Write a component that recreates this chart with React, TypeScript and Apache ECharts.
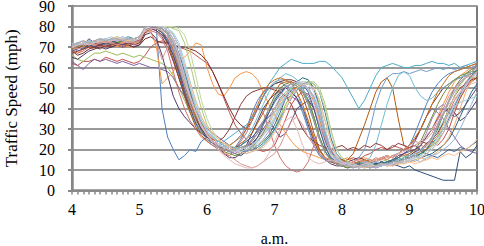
import React, { useEffect, useRef } from "react";
import * as echarts from "echarts";

// sample times: every 5 minutes from 4:00 to 10:00 a.m.
const times: number[] = Array.from({ length: 73 }, (_, i) => 4 + i / 12);
const xTicks = [4, 5, 6, 7, 8, 9, 10];
const yTicks = [0, 10, 20, 30, 40, 50, 60, 70, 80, 90];

const s01 = [70,68,69,71,70,72,71,72,71,73,72,72, 73,78,80,79,40,26,20,15,17,20,19,24, 26,24,22,20,19,21,25,30,38,44,48,50, 52,53,51,49,45,38,30,22,17,15,14,13, 13,14,12,13,14,15,14,16,15,17,18,20, 22,28,35,42,48,52,55,57,58,59,60,61, 62];
const s02 = [62,61,63,63,64,63,65,64,63,64,63,62, 63,66,70,72,73,72,71,70,69,68,66,64, 62,58,52,45,38,32,28,25,22,20,19,20, 22,28,35,42,46,48,47,44,35,25,18,15, 14,15,16,15,17,18,20,21,20,22,21,20, 21,22,20,23,24,22,25,30,38,45,50,54, 58];
const s03 = [66,64,63,65,67,67,68,67,66,67,66,65, 66,65,64,63,62,60,56,50,44,38,33,29, 26,24,22,21,20,19,22,24,21,20,22,25, 30,36,42,47,50,52,53,50,42,30,20,16, 14,13,12,13,14,12,13,14,15,14,16,17, 16,18,17,20,22,26,33,40,46,52,55,57, 58];
const s04 = [63,61,59,62,64,63,64,63,62,63,62,61, 62,61,60,60,59,58,55,50,46,40,36,33, 30,28,26,24,22,20,19,21,25,30,34,36, 38,42,45,46,44,40,34,26,20,16,14,13, 12,13,12,11,12,13,12,14,13,15,16,18, 20,24,30,36,40,38,35,30,26,22,20,19, 18];
const s05 = [70,71,70,72,71,72,73,72,73,72,73,72, 74,79,80,80,78,72,64,55,46,38,32,28, 25,23,22,24,26,28,30,32,35,40,46,52, 56,60,62,64,63,62,62,62,63,63,61,58, 55,50,45,40,44,50,56,60,61,62,61,60, 60,61,61,62,63,62,62,61,62,60,61,62, 63];
const s06 = [68,67,69,70,69,71,70,71,70,71,70,70, 72,77,78,70,52,55,58,62,65,68,72,71, 60,52,47,46,50,55,57,58,57,54,48,42, 37,32,28,24,21,19,18,17,16,15,14,14, 15,16,14,15,16,15,14,16,15,17,16,18, 17,19,22,26,30,36,42,48,53,56,58,60, 61];
const s07 = [69,70,71,70,72,71,72,73,72,71,72,73, 74,79,80,79,77,74,68,60,50,42,36,30, 26,24,22,20,19,18,17,19,22,26,32,38, 44,48,50,52,51,48,42,34,25,19,15,14, 13,12,13,14,12,13,14,13,14,13,12,11, 12,10,9,8,7,6,5,5,5,19,16,18, 22];
const s08 = [68,66,67,69,70,69,71,70,71,70,71,70, 71,74,75,73,72,72,71,70,70,69,68,66, 63,58,52,46,40,35,32,30,34,40,46,50, 52,53,54,54,53,52,50,45,36,26,19,16, 15,14,15,16,15,14,15,16,17,16,18,20, 22,25,30,36,42,46,50,52,54,55,56,57, 58];
const s09 = [70,71,70,71,72,73,72,73,74,73,72,73, 74,79,80,80,79,76,70,62,52,43,35,29, 25,23,21,20,19,20,21,22,24,28,33,40, 46,50,52,53,52,50,44,36,26,19,15,13, 12,12,13,12,11,12,13,12,13,14,15,14, 15,16,18,20,24,30,37,44,50,54,57,59, 60];
const s10 = [65,64,66,68,69,70,69,70,71,70,71,70, 71,76,77,74,66,56,46,40,36,33,30,28, 26,24,22,18,16,16,18,22,28,34,40,44, 47,49,50,48,45,40,32,24,18,15,13,12, 12,11,12,13,12,12,13,14,13,15,14,16, 17,19,20,22,26,32,38,40,38,34,36,40, 44];
const s11 = [71,72,71,72,73,72,73,74,73,74,73,74, 75,79,80,80,80,79,76,70,60,48,38,31, 27,24,22,21,20,19,19,20,21,22,24,27, 32,38,45,50,53,55,54,50,40,28,20,16, 14,13,13,14,13,12,13,14,13,14,15,16, 16,17,16,17,18,20,22,25,30,36,42,48, 52];
const s12 = [69,70,70,71,72,71,72,71,72,72,71,72, 73,78,79,79,77,72,64,55,46,38,31,27, 24,22,21,20,20,21,23,25,28,33,38,44, 48,52,53,53,51,46,38,28,20,16,14,13, 14,15,18,25,32,40,48,53,55,50,35,22, 20,18,19,20,22,24,28,34,40,45,50,53, 55];
const s13 = [70,69,71,72,71,72,73,72,71,72,73,72, 73,79,80,80,79,77,72,64,54,44,36,30, 26,24,22,21,22,24,27,31,36,41,46,50, 53,54,54,52,48,40,30,22,17,15,14,14, 14,13,14,16,20,30,42,50,55,57,57,58, 57,58,59,58,59,60,59,60,59,60,61,60, 61];
const s14 = [68,67,68,70,71,70,71,72,71,70,71,72, 72,77,78,77,74,68,58,48,40,34,30,26, 24,22,20,18,17,20,24,28,34,40,38,30, 22,16,12,10,9,10,14,22,30,28,20,16, 14,13,14,13,15,14,16,15,17,16,18,17, 18,20,22,21,24,27,32,38,44,48,53,56, 58];
const s15 = [69,70,71,72,73,74,73,74,75,74,73,74, 75,79,80,80,80,80,79,78,72,62,50,40, 32,27,24,22,21,20,19,20,21,22,24,26, 30,36,42,47,50,52,53,53,50,42,30,20, 16,14,13,12,13,12,12,13,12,13,14,13, 14,15,16,18,20,24,30,36,42,47,51,54, 56];
const s16 = [70,72,71,73,72,73,74,73,72,73,74,73, 74,79,80,79,78,74,68,58,48,40,33,28, 25,23,21,20,19,18,20,22,25,28,32,36, 40,44,47,49,50,49,46,40,30,22,16,14, 13,12,11,12,13,12,11,12,13,12,14,15, 16,18,22,28,35,40,42,38,42,46,50,55, 63];
const s17 = [71,70,72,71,72,73,72,73,74,73,72,73, 74,79,80,80,79,76,70,62,53,45,38,32, 28,25,23,22,21,20,22,25,30,36,42,48, 52,55,57,56,54,50,44,36,26,19,16,14, 13,13,12,13,14,16,22,32,42,50,56,58, 56,50,46,44,45,48,50,52,54,55,56,57, 58];
const s18 = [70,71,72,71,73,72,73,74,73,72,73,74, 75,79,80,80,80,78,74,66,56,46,38,32, 28,25,23,21,20,19,18,19,21,24,28,33, 38,43,47,50,52,52,50,44,34,24,17,14, 13,12,12,13,12,11,12,13,12,13,13,14, 15,14,16,15,17,19,22,26,32,40,48,54, 60];
const s19 = [69,70,69,71,70,71,72,71,72,73,72,73, 74,78,79,79,77,73,66,57,48,40,33,28, 25,23,22,21,20,21,22,24,26,29,33,38, 43,47,50,52,53,52,48,40,30,21,16,14, 13,14,13,12,13,14,13,12,13,14,16,18, 20,22,19,18,17,16,18,20,19,21,20,22, 24];
const s20 = [67,68,69,70,70,71,70,71,72,71,72,71, 72,77,79,78,75,70,63,55,47,40,35,30, 27,25,24,26,30,36,42,46,48,49,50,50, 49,48,46,42,36,30,26,24,22,21,20,21, 22,20,21,20,22,21,23,22,20,21,23,22, 21,22,24,23,25,28,33,40,46,50,52,54, 55];
const s21 = [70,71,72,71,72,73,72,73,72,73,74,73, 74,79,80,80,79,77,72,65,56,47,39,33, 28,24,21,19,18,17,18,19,21,24,28,34, 40,45,48,50,50,48,44,36,26,19,15,13, 12,11,12,13,12,11,12,13,12,13,14,16, 18,20,24,30,36,42,47,51,54,56,57,58, 58];
const s22 = [68,69,71,74,72,71,72,73,72,71,72,73, 73,78,79,78,76,72,66,58,50,42,36,30, 26,24,22,21,20,19,20,21,23,26,30,34, 30,26,28,34,40,42,44,40,32,24,18,15, 14,13,12,13,12,13,14,13,14,15,17,18, 19,20,22,26,30,35,40,38,36,38,42,46, 50];
const s23 = [71,72,71,72,73,74,73,74,73,74,75,74, 75,79,80,80,80,78,74,67,58,49,41,34, 29,26,24,22,21,20,19,19,20,21,23,26, 30,35,40,45,49,52,53,52,48,38,26,18, 15,14,13,13,12,13,12,13,14,15,16,15, 16,17,18,20,23,26,30,35,41,47,52,56, 59];
const s24 = [69,70,71,72,71,72,73,72,71,72,73,72, 73,78,79,79,78,75,69,60,51,43,36,31, 27,25,24,23,22,24,26,30,36,42,48,52, 54,55,54,52,48,42,34,25,19,16,15,14, 15,14,13,14,15,14,15,16,17,16,18,20, 22,26,30,36,42,48,52,56,58,59,60,61, 62];
const s25 = [70,71,72,73,72,73,74,73,74,75,74,73, 74,79,80,80,80,79,76,70,60,50,41,34, 29,26,24,22,21,20,19,18,19,20,22,25, 29,34,40,45,49,51,52,50,44,34,24,17, 14,13,12,11,12,13,12,12,13,12,13,14, 14,15,14,16,17,18,20,22,25,30,36,42, 48];
const s26 = [70,69,70,72,71,72,73,72,71,72,73,72, 73,78,77,72,64,70,74,66,55,46,38,32, 28,24,21,19,17,15,13,12,11,12,14,16, 18,22,28,34,36,32,26,22,18,16,15,14, 14,13,14,15,14,13,14,15,16,17,18,20, 22,24,23,25,28,34,40,46,50,53,55,56, 57];
const s27 = [71,72,73,72,73,74,73,74,75,74,73,74, 75,79,80,80,80,80,80,79,76,68,56,44, 35,29,25,23,22,21,20,21,22,24,27,31, 36,42,46,50,52,53,53,52,48,40,29,20, 16,14,13,12,12,13,12,13,12,13,14,14, 15,16,17,19,22,26,32,40,46,51,55,58, 60];
const s28 = [70,71,72,71,72,73,74,73,74,73,74,73, 74,79,80,80,79,77,72,64,55,46,38,31, 27,24,22,21,20,19,18,19,20,22,25,29, 34,40,45,48,50,51,50,46,38,28,19,15, 13,12,12,11,12,12,11,12,13,12,13,15, 16,17,19,22,26,32,38,44,49,53,56,58, 60];
const s29 = [72,71,72,73,72,73,74,75,74,73,74,73, 74,79,80,80,80,79,77,72,63,53,44,36, 30,27,24,22,21,20,20,21,22,24,27,30, 35,41,46,50,52,52,50,45,36,26,18,15, 14,13,13,12,13,13,14,13,13,14,15,16, 17,18,20,22,25,29,34,38,41,43,44,45, 46];
const s30 = [71,72,73,72,73,74,73,74,75,74,73,74, 75,79,80,80,80,79,76,70,61,52,43,36, 31,28,25,23,21,20,19,18,19,20,21,24, 28,33,40,46,50,52,52,50,44,34,24,17, 14,13,12,12,11,12,12,13,12,12,13,13, 14,13,14,15,16,15,17,18,17,19,20,22, 25];
const s31 = [71,72,73,72,73,74,74,73,74,75,74,74, 75,79,80,80,80,79,76,70,60,50,41,34, 29,26,23,21,20,19,19,20,21,23,27,32, 38,44,48,51,53,53,52,48,40,30,21,16, 14,13,12,12,12,11,12,12,13,13,14,15, 15,16,17,19,21,25,30,36,42,48,52,55, 57];
const s32 = [70,71,72,71,72,73,72,73,74,73,72,73, 74,78,79,79,78,75,70,62,53,45,38,32, 27,23,20,17,15,13,12,11,11,12,14,18, 24,30,34,36,30,22,16,14,13,14,15,14, 13,14,13,12,13,14,15,16,17,16,18,19, 20,22,24,27,30,34,38,42,45,48,50,52, 53];
const s33 = [71,72,71,72,73,74,73,74,73,74,74,74, 75,79,80,80,80,78,74,66,56,46,38,31, 27,24,22,21,20,19,20,21,22,25,29,34, 40,46,50,52,53,52,49,42,32,23,17,14, 13,12,12,11,12,12,12,13,12,13,14,14, 15,16,16,18,20,23,28,34,40,46,51,55, 58];
const s34 = [71,72,73,72,73,74,73,74,74,73,74,74, 75,80,80,80,79,76,70,61,51,42,34,28, 25,22,21,20,19,20,21,22,24,28,34,40, 45,49,51,52,51,48,42,34,25,18,15,13, 12,12,11,12,12,11,12,13,13,14,14,15, 16,17,19,22,26,31,37,43,48,52,55,58, 60];

const seriesValues = [s01,s02,s03,s04,s05,s06,s07,s08,s09,s10,s11,s12,s13,s14,s15,s16,s17,s18,s19,s20,s21,s22,s23,s24,s25,s26,s27,s28,s29,s30,s31,s32,s33,s34];

const palette = [
  "#4F81BD","#C0504D","#9BBB59","#8064A2","#4BACC6","#F79646",
  "#2C4D75","#772C2A","#5F7530","#4D3B62","#276A7C","#B65708",
  "#729ACA","#CD7371","#AFC97A","#9983B5","#6FBDD1","#F9AB6B",
  "#3A5F8B","#8E3B38","#728C3B","#5F4877","#327F95","#D17118",
  "#95B3D7","#D99694","#C3D69B","#B3A2C7","#93CDDD","#FAC090",
  "#B9CDE5","#E6B9B8","#CCC1DA","#A5A5A5",
];

const FONT = "Liberation Serif";

export default function App() {
  const ref = useRef<HTMLDivElement>(null);
  useEffect(() => {
    if (!ref.current) return;
    const chart = echarts.init(ref.current, null, { renderer: "svg" });
    chart.setOption({
      animation: false,
      backgroundColor: "#fff",
      textStyle: { fontFamily: FONT },
      grid: {
        left: 72, right: 7, top: 6, bottom: 55.5,
        outerBoundsMode: "none",
        containLabel: false,
        show: true, borderColor: "#222", borderWidth: 1.2,
        backgroundColor: "transparent",
      },
      xAxis: {
        type: "value", min: 4, max: 10, interval: 1,
        name: "a.m.", nameLocation: "middle", nameGap: 40,
        nameTextStyle: { fontFamily: FONT, fontSize: 16, color: "#000" },
        axisLine: { show: true, lineStyle: { color: "#888", width: 2.5 } },
        axisTick: { show: true, length: 4, lineStyle: { color: "#888", width: 1.5 } },
        minorTick: { show: true, splitNumber: 12, length: 4, lineStyle: { color: "#888", width: 1.5 } },
        splitLine: { show: false },
        axisLabel: {
          fontFamily: FONT, fontSize: 16, color: "#000", margin: 11,
          formatter: (v: number) => (xTicks.includes(v) ? String(v) : ""),
        },
      },
      yAxis: {
        type: "value", min: 0, max: 90, interval: 10,
        name: "Traffic Speed (mph)", nameLocation: "middle", nameGap: 52,
        nameTextStyle: { fontFamily: FONT, fontSize: 17, color: "#000" },
        axisLine: { show: true, lineStyle: { color: "#888", width: 2.5 } },
        axisTick: { show: true, length: 4, lineStyle: { color: "#888", width: 2 } },
        splitLine: { show: true, lineStyle: { color: "#9a9a9a", width: 2 } },
        axisLabel: {
          fontFamily: FONT, fontSize: 16, color: "#000", margin: 17,
          formatter: (v: number) => (yTicks.includes(v) ? String(v) : ""),
        },
      },
      series: seriesValues.map((vals, k) => ({
        type: "line",
        data: vals.map((v, i) => [times[i], v]),
        showSymbol: false,
        symbol: "none",
        silent: true,
        lineStyle: { width: 1, color: palette[k % palette.length] },
        itemStyle: { color: palette[k % palette.length] },
      })),
    });
    return () => chart.dispose();
  }, []);
  return (
    <div
      ref={ref}
      style={{ position: "fixed", left: 0, top: 0, width: 484, height: 246 }}
    />
  );
}
